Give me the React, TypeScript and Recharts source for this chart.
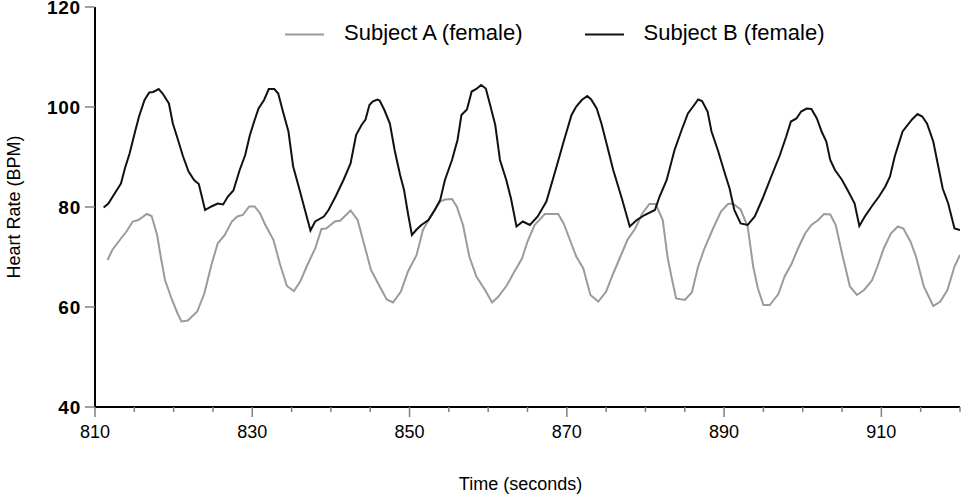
import React from 'react';
import { LineChart, Line, XAxis, YAxis, Legend } from 'recharts';

// Subject A (female) – grey trace
const timeA = [
  811.6, 812.2, 813.3, 814.0, 814.8, 815.5, 816.6, 817.2, 817.9, 818.4,
  818.9, 819.8, 820.5, 821.0, 821.8, 823.0, 823.9, 824.8, 825.6, 826.5,
  827.4, 828.1, 828.8, 829.6, 830.3, 831.0, 831.6, 832.7, 833.5, 834.4,
  835.3, 836.1, 837.0, 838.0, 838.8, 839.4, 840.5, 841.2, 842.5, 843.4,
  844.2, 845.1, 846.0, 847.1, 847.9, 848.9, 849.8, 850.9, 851.7, 852.8,
  853.9, 854.5, 855.4, 856.0, 856.8, 857.6, 858.5, 859.6, 860.5, 861.3,
  862.4, 863.2, 864.3, 865.0, 865.9, 867.2, 868.9, 869.6, 870.4, 871.2,
  872.1, 873.0, 874.0, 875.0, 875.9, 876.9, 877.7, 878.7, 879.6, 880.5,
  881.3, 882.2, 882.8, 883.3, 883.9, 885.0, 885.9, 886.7, 887.5, 888.6,
  889.6, 890.5, 891.1, 892.1, 893.0, 893.7, 894.3, 895.0, 895.8, 896.9,
  897.7, 898.6, 899.4, 900.3, 901.1, 901.9, 902.7, 903.5, 904.2, 905.0,
  906.0, 906.9, 907.8, 908.8, 909.5, 910.3, 911.2, 912.1, 912.8, 913.7,
  914.4, 915.4, 916.6, 917.5, 918.4, 919.3, 920.0,
];
const rateA = [
  69.4, 71.4, 73.7, 75.1, 77.1, 77.4, 78.6, 78.2, 74.4, 69.7,
  65.4, 61.4, 58.7, 57.1, 57.3, 59.1, 62.7, 68.4, 72.7, 74.4,
  77.1, 78.1, 78.4, 80.1, 80.1, 78.7, 76.6, 73.4, 68.7, 64.2,
  63.2, 65.1, 68.4, 71.7, 75.6, 75.7, 77.1, 77.3, 79.3, 77.4,
  72.7, 67.4, 64.7, 61.5, 60.9, 63.1, 67.1, 70.4, 75.4, 78.4,
  81.1, 81.5, 81.6, 80.1, 76.4, 70.1, 66.1, 63.4, 60.9, 62.1,
  64.4, 66.7, 69.7, 73.1, 76.4, 78.6, 78.6, 76.7, 73.4, 70.1,
  67.7, 62.4, 61.1, 63.1, 66.7, 70.4, 73.4, 75.7, 78.7, 80.6,
  80.6, 77.4, 70.1, 66.1, 61.7, 61.4, 62.9, 68.1, 71.7, 75.7,
  79.1, 80.6, 80.7, 79.5, 76.1, 68.1, 63.7, 60.4, 60.4, 62.6,
  66.1, 68.7, 71.7, 74.7, 76.4, 77.3, 78.6, 78.5, 76.4, 70.7,
  64.1, 62.4, 63.4, 65.3, 68.1, 71.7, 74.7, 76.1, 75.7, 73.1,
  70.1, 64.1, 60.2, 61.1, 63.4, 68.1, 70.4,
];

// Subject B (female) – black trace
const timeB = [
  811.1, 811.7, 812.5, 813.3, 813.8, 814.4, 815.1, 815.6, 816.3, 816.9,
  817.4, 818.1, 818.6, 819.4, 819.9, 820.5, 821.2, 821.9, 822.6, 823.2,
  824.0, 824.8, 825.6, 826.3, 826.9, 827.6, 828.4, 829.1, 829.7, 830.3,
  830.8, 831.5, 832.1, 832.8, 833.3, 833.9, 834.6, 835.2, 835.9, 836.7,
  837.4, 838.0, 839.1, 839.7, 840.6, 841.6, 842.5, 843.2, 843.9, 844.4,
  844.9, 845.3, 845.9, 846.2, 846.8, 847.5, 848.1, 848.8, 849.3, 849.8,
  850.3, 850.9, 851.5, 852.4, 853.2, 853.9, 854.5, 855.4, 856.1, 856.6,
  857.3, 857.9, 858.5, 859.1, 859.7, 860.2, 860.9, 861.5, 862.3, 862.9,
  863.6, 864.4, 865.3, 866.3, 867.4, 868.7, 869.6, 870.6, 871.2, 871.9,
  872.6, 873.1, 873.8, 874.4, 875.1, 875.9, 877.0, 878.0, 878.9, 879.9,
  881.2, 881.8, 882.7, 883.7, 884.6, 885.4, 886.2, 886.7, 887.2, 887.9,
  888.4, 889.2, 890.1, 890.7, 891.3, 892.1, 893.0, 893.9, 894.9, 896.0,
  897.1, 897.9, 898.5, 899.2, 899.8, 900.5, 901.1, 901.8, 902.4, 903.0,
  903.5, 904.1, 905.0, 905.8, 906.6, 907.2, 907.9, 908.9, 909.7, 910.5,
  911.1, 911.7, 912.7, 913.9, 914.6, 915.2, 915.8, 916.6, 917.2, 917.8,
  918.5, 919.3, 920.0,
];
const rateB = [
  79.9, 80.7, 82.7, 84.7, 87.7, 90.7, 95.1, 98.1, 101.4, 102.9,
  103.0, 103.6, 102.7, 100.7, 96.7, 93.7, 90.1, 87.1, 85.4, 84.6,
  79.4, 80.1, 80.7, 80.5, 82.1, 83.3, 87.4, 90.4, 94.4, 97.4,
  99.7, 101.4, 103.6, 103.6, 102.7, 99.1, 95.1, 88.1, 84.1, 79.4,
  75.3, 77.1, 78.1, 79.4, 82.1, 85.4, 88.7, 94.4, 96.4, 97.5,
  100.4, 101.1, 101.5, 101.3, 99.4, 96.7, 91.4, 86.4, 83.4, 78.7,
  74.4, 75.5, 76.4, 77.4, 79.4, 81.4, 85.4, 89.4, 93.4, 98.4,
  99.5, 103.1, 103.6, 104.4, 103.7, 100.7, 96.4, 89.4, 85.4, 81.7,
  76.1, 77.1, 76.4, 78.1, 81.1, 88.1, 93.1, 98.4, 100.1, 101.4,
  102.2, 101.5, 99.7, 96.7, 92.4, 87.4, 81.7, 76.1, 77.4, 78.4,
  79.4, 82.1, 85.4, 91.4, 95.4, 98.7, 100.4, 101.5, 101.2, 99.1,
  95.1, 91.4, 86.7, 83.7, 79.4, 76.7, 76.4, 78.1, 81.7, 86.1,
  90.4, 94.1, 97.1, 97.7, 99.1, 99.7, 99.6, 97.7, 95.1, 93.1,
  89.4, 87.4, 85.4, 83.1, 80.7, 76.2, 78.1, 80.4, 82.1, 84.1,
  86.1, 90.1, 95.1, 97.5, 98.6, 98.1, 96.7, 93.1, 88.4, 83.7,
  80.7, 75.7, 75.4,
];

const xTicks = [
  810, 815, 820, 825, 830, 835, 840, 845, 850, 855, 860, 865,
  870, 875, 880, 885, 890, 895, 900, 905, 910, 915, 920,
];
const yTicks = [40, 60, 80, 100, 120];

const FONT = '"Liberation Sans", Arial, sans-serif';
const GREY = '#9b9b9b';
const BLACK = '#111111';

const toSeries = (ts: number[], vs: number[]) =>
  ts.slice(0, Math.min(ts.length, vs.length)).map((t, i) => ({ t, hr: vs[i] }));

const seriesA = toSeries(timeA, rateA);
const seriesB = toSeries(timeB, rateB);

const XTick = (props: any) => {
  const { x, y, payload } = props;
  const major = (payload.value - 810) % 20 === 0;
  return (
    <g>
      <line x1={x} x2={x} y1={y} y2={y + (major ? 10 : 5)} stroke="#808080" strokeWidth={1.5} />
      {major && (
        <text x={x} y={y + 31} textAnchor="middle" fontSize={18} fontFamily={FONT} fill="#000">
          {payload.value}
        </text>
      )}
    </g>
  );
};

const YTick = (props: any) => {
  const { x, y, payload } = props;
  return (
    <text
      x={x}
      y={y + 6.5}
      textAnchor="end"
      fontSize={19}
      fontWeight="bold"
      letterSpacing={0.8}
      fontFamily={FONT}
      fill="#000"
    >
      {payload.value}
    </text>
  );
};

const YLabel = (props: any) => {
  const vb = props.viewBox;
  const cx = vb.x + 14;
  const cy = vb.y + vb.height / 2;
  return (
    <text
      x={cx}
      y={cy}
      transform={`rotate(-90, ${cx}, ${cy})`}
      textAnchor="middle"
      dominantBaseline="central"
      fontSize={18}
      fontFamily={FONT}
      fill="#000"
    >
      Heart Rate (BPM)
    </text>
  );
};

const XLabel = (props: any) => {
  const vb = props.viewBox;
  return (
    <text
      x={vb.x + vb.width / 2 - 7}
      y={vb.y + 83}
      textAnchor="middle"
      fontSize={18}
      fontFamily={FONT}
      fill="#000"
    >
      Time (seconds)
    </text>
  );
};

const LegendItem = ({ color, label, gap }: { color: string; label: string; gap: number }) => (
  <div style={{ display: 'flex', alignItems: 'center', marginRight: gap }}>
    <svg width={39} height={26} style={{ marginRight: 20 }}>
      <line x1={0} x2={39} y1={14.5} y2={14.5} stroke={color} strokeWidth={2} />
    </svg>
    <span style={{ fontSize: 22, lineHeight: '26px', fontFamily: FONT, color: '#000', whiteSpace: 'nowrap' }}>
      {label}
    </span>
  </div>
);

const ChartLegend = () => (
  <div style={{ display: 'flex', alignItems: 'center' }}>
    <LegendItem color={GREY} label="Subject A (female)" gap={62} />
    <LegendItem color={BLACK} label="Subject B (female)" gap={0} />
  </div>
);

export default function App() {
  return (
    <div style={{ position: 'absolute', left: 0, top: 0, background: '#fff' }}>
      <LineChart width={965} height={494} margin={{ top: 7, right: 5, bottom: 27, left: 0 }}>
        <XAxis
          type="number"
          dataKey="t"
          domain={[810, 920]}
          ticks={xTicks}
          interval={0}
          height={60}
          tickSize={0}
          tickMargin={0}
          tickLine={false}
          tick={<XTick />}
          axisLine={{ stroke: '#000', strokeWidth: 2 }}
          allowDataOverflow
          label={{ content: <XLabel /> }}
        />
        <YAxis
          type="number"
          domain={[40, 120]}
          ticks={yTicks}
          interval={0}
          width={95}
          tickSize={10}
          tickMargin={4}
          tickLine={{ stroke: '#808080', strokeWidth: 1.5 }}
          axisLine={{ stroke: '#000', strokeWidth: 2 }}
          tick={<YTick />}
          label={{ content: <YLabel /> }}
        />
        <Legend
          layout="horizontal"
          verticalAlign="middle"
          align="center"
          content={<ChartLegend />}
          wrapperStyle={{ top: 20, left: 285, width: 600, height: 26 }}
        />
        <Line
          data={seriesA}
          dataKey="hr"
          name="Subject A (female)"
          type="linear"
          stroke={GREY}
          strokeWidth={2}
          dot={false}
          isAnimationActive={false}
        />
        <Line
          data={seriesB}
          dataKey="hr"
          name="Subject B (female)"
          type="linear"
          stroke={BLACK}
          strokeWidth={2}
          dot={false}
          isAnimationActive={false}
        />
      </LineChart>
    </div>
  );
}
